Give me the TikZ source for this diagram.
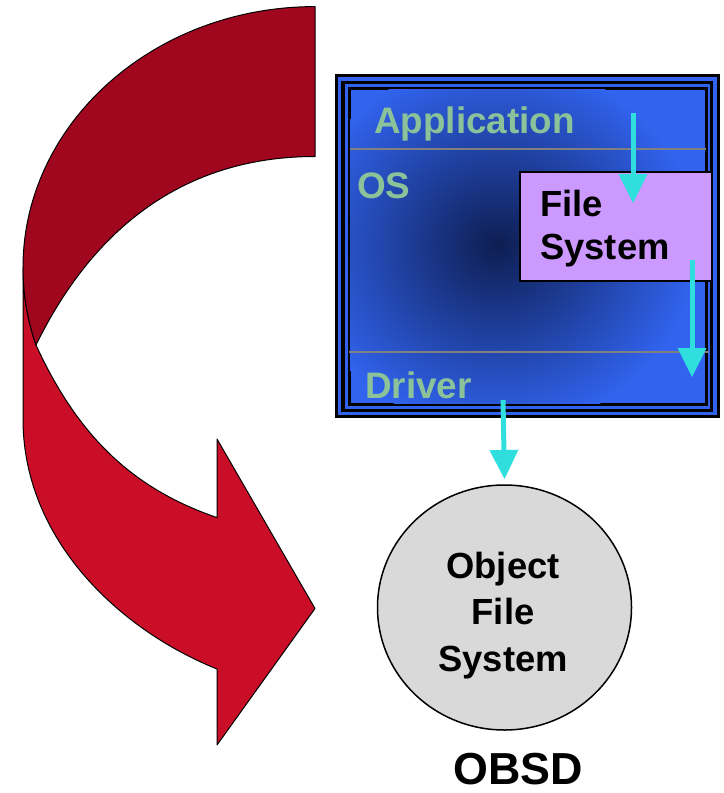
\documentclass[tikz,border=0pt]{standalone}
\usepackage{fontspec}
\setmainfont{Liberation Sans}
\usepackage{tikz}
\usetikzlibrary{arrows.meta,shapes.geometric}
\definecolor{wine}{HTML}{A1061F}
\definecolor{crimson}{HTML}{CB0E28}
\definecolor{osblue}{HTML}{3163EE}
\definecolor{osdeep}{HTML}{0E1E52}
\definecolor{sage}{HTML}{8CC29A}
\definecolor{lilac}{HTML}{CC99FF}
\definecolor{disc}{HTML}{D9D9D9}
\definecolor{aqua}{HTML}{30DEDE}

\begin{document}
\begin{tikzpicture}[
  x=1bp,y=-1bp,
  ribbon/.style={draw=black,line width=1bp,line join=round},
  layerlbl/.style={text=sage,inner sep=0pt,anchor=base west,
                   font=\bfseries\fontsize{37}{44}\selectfont},
  darklbl/.style={text=black,inner sep=0pt,
                  font=\bfseries\fontsize{36.5}{44}\selectfont},
  flow/.style={aqua,line width=5bp,
               -{Triangle[width=29bp,length=29bp,line width=0pt]}},
  sep/.style={gray,line width=1.5bp}
]
\useasboundingbox (0,0) rectangle (724,793);

% turning ribbon arrow
\fill[crimson,ribbon] (23,267.6) -- (23,419)
  .. controls (23,540) and (120,630) .. (217,669)
  -- (217,745) -- (315,608.5) -- (217,439) -- (217,517.6)
  .. controls (137,490) and (80,441) .. (36,345)
  .. controls (27.3,320) and (23,293.8) .. (23,267.6) -- cycle;
\fill[wine,ribbon] (315,6.6) -- (315,156.5)
  .. controls (191,156.5) and (96.8,221) .. (36,345)
  .. controls (27.3,320) and (23,293.8) .. (23,267.6)
  .. controls (23,123.4) and (154,6.6) .. (315,6.6) -- cycle;

% OS stack with framed border
\fill[black] (334.5,74) rectangle (719.5,418);
\fill[osblue] (337.5,77) rectangle (716.5,415);
\fill[black] (341,80.5) rectangle (713,411.5);
\fill[osblue] (345,84) rectangle (710,408.5);
\fill[black] (347.5,86.5) rectangle (707.5,406);
\fill[osblue] (350.5,89.5) rectangle (704.5,403);
\begin{scope}
  \clip (350.5,89.5) rectangle (704.5,403);
  \shade[inner color=osdeep,outer color=osblue]
    (497,245) ellipse [x radius=200,y radius=185];
\end{scope}
\draw[sep] (350,149) -- (706,149);
\draw[sep] (349,352) -- (709,352);

\node[layerlbl] (app) at (374,133) {Application};
\node[layerlbl] (os) at (357,198) {OS};
\node[layerlbl] (drv) at (365,398) {Driver};

\node[draw=black,line width=2bp,fill=lilac,rectangle,inner sep=0pt,
      minimum width=192bp,minimum height=109bp] (fs) at (616,226.5) {};
\node[darklbl,anchor=north west,align=left] (fstxt) at (540,189.5) {File\\System};

% object store
\node[draw=black,line width=1.5bp,fill=disc,ellipse,inner sep=0pt,
      minimum width=254bp,minimum height=245bp] (ofs) at (504.5,607.5) {};
\node[darklbl,anchor=north,align=center,
      font=\bfseries\fontsize{36.5}{47}\selectfont] (ofstxt) at (503,551.5) {Object\\File\\System};
\node[inner sep=0pt,anchor=base,font=\bfseries\fontsize{45}{50}\selectfont] (obsd) at (518.5,784) {OBSD};

\coordinate (a1s) at (633,113);
\coordinate (a1e) at (633,203);
\coordinate (a2s) at (692,260);
\coordinate (a2e) at (692,377);
\coordinate (a3s) at (503,400);
\draw[flow] (a1s) -- (a1e);
\draw[flow] (a2s) -- (a2e);
\draw[flow] (a3s) -- (ofs.north |- 0,479);
\end{tikzpicture}
\end{document}
